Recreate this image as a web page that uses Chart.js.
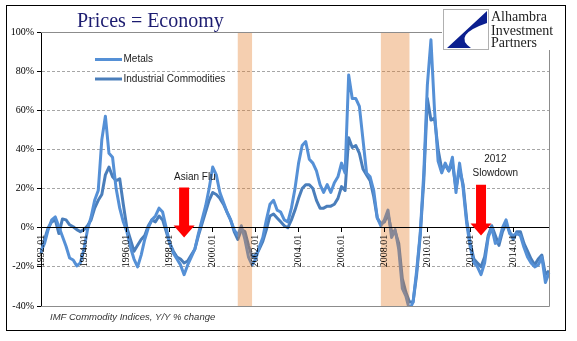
<!DOCTYPE html>
<html>
<head>
<meta charset="utf-8">
<script src="https://cdn.jsdelivr.net/npm/chart.js@4.4.1/dist/chart.umd.min.js"></script>
<style>
  html, body { margin: 0; padding: 0; background: #fff; }
</style>
</head>
<body>
<canvas id="chart" width="577" height="341"></canvas>
<script>
// categories: every other month from 1992.01
const categories = [];
for (let m = 0; m <= 284; m += 2) {
  const yr = 1992 + Math.floor(m / 12);
  categories.push(yr + '.' + String(m % 12 + 1).padStart(2, '0'));
}

const xTickLabels = ['1992.01', '1994.01', '1996.01', '1998.01', '2000.01', '2002.01',
  '2004.01', '2006.01', '2008.01', '2010.01', '2012.01', '2014.01'];

// Y/Y % change
const metals = [
  -12, -8, -1, 4, 5.5, 0.5, -4.5, -9.5, -15.5, -16.5, -19.5, -18, -11, -1, 5.5, 14, 19, 45, 57, 38, 36, 20, 10, 3, -2,
  -10, -16, -20, -14, -6, 0, 4, 6, 10, 8, 0, -8, -13, -16, -19, -24, -19, -15, -11, -3, 4, 11, 20, 31,
  27, 18, 13, 8, 4, -1, -4, 1, -6, -15, -19, -16, -10, -5, 4, 12, 14, 9, 8, 4, 3, 10, 20, 33,
  42, 44, 35, 33, 29, 22, 18, 22, 18, 23, 26, 33, 28, 78, 66, 66, 62, 45, 28, 26, 19, 5, 1, 4,
  9, -5, -1, -11, -31, -35, -42, -38, -22, -3, 28, 73, 96, 60, 34, 28, 33, 29, 36, 18, 33, 20, 2, -10,
  -18, -20, -24, -18, -5, 0, -8, -7, 0, 4, -3, -4, -3, -4, -10, -15, -18, -20, -19, -15, -28, -23
];
const industrial = [
  -13, -6, 0, 3, 4, -3, 4.5, 4, 1.5, 0.5, -1, -2, -1, 1, 4, 10, 14, 17, 27, 31, 26, 24, 25, 12, 0,
  -6, -12, -9, -6, -4, 1, 4, 3, 6, 4, -2, -8, -12, -15, -16, -18, -17, -14, -11, -4, 2, 8, 14, 18,
  17, 15, 12, 8, 4, -2, -6, -1, -2, -9, -15, -14, -11, -7, -1, 6, 7, 5, 3, 1, 0, 4, 9, 15,
  20, 22, 22, 20, 14, 10, 10, 11, 11, 12, 15, 21, 19, 46, 41, 42, 38, 30, 27, 24, 16, 5, 2, 3,
  7, -2, -2, -8, -26, -33, -38, -38, -24, -4, 24, 66, 55, 56, 40, 30, 32, 29, 33, 20, 30, 22, 4, -8,
  -16, -18, -20, -15, -4, 1, -4, -9, -2, 2, -2, -6, -2, -2, -8, -12, -16, -19, -16, -14, -24, -22
];

const recessions = [['2001.03', '2001.11'], ['2007.11', '2009.03']];

const callouts = [
  { at: '1998.09', top: 20.5, tip: -5, textAt: '1999.03', text: [['Asian Flu', 26]] },
  { at: '2012.07', top: 22, tip: -4, textAt: '2013.03', text: [['2012', 34.8], ['Slowdown', 27.6]] }
];

const seriesColors = { metals: '#5590D6', industrial: '#4A7EBB' };

const decor = {
  id: 'decor',
  beforeDraw(chart) {
    const ctx = chart.ctx;
    ctx.save();
    ctx.fillStyle = '#fff';
    ctx.fillRect(0, 0, chart.width, chart.height);
    ctx.restore();
  },
  afterDatasetsDraw(chart) {
    const { ctx, chartArea: a, scales: { x } } = chart;
    ctx.save();
    ctx.fillStyle = 'rgba(226,121,35,0.36)';
    recessions.forEach(([s, e]) => {
      const x1 = x.getPixelForValue(categories.indexOf(s));
      const x2 = x.getPixelForValue(categories.indexOf(e));
      ctx.fillRect(x1, a.top, x2 - x1, a.bottom - a.top);
    });
    ctx.restore();
  },
  afterDraw(chart) {
    const { ctx, chartArea: a, scales: { x, y } } = chart;
    ctx.save();

    // red arrows + notes
    callouts.forEach(c => {
      const cx = x.getPixelForValue(categories.indexOf(c.at));
      const top = y.getPixelForValue(c.top);
      const tip = y.getPixelForValue(c.tip);
      const head = tip - 12;
      ctx.fillStyle = '#FF0000';
      ctx.beginPath();
      ctx.moveTo(cx - 5, top);
      ctx.lineTo(cx + 5, top);
      ctx.lineTo(cx + 5, head);
      ctx.lineTo(cx + 10.5, head);
      ctx.lineTo(cx, tip);
      ctx.lineTo(cx - 10.5, head);
      ctx.lineTo(cx - 5, head);
      ctx.closePath();
      ctx.fill();
      const tx = x.getPixelForValue(categories.indexOf(c.textAt));
      ctx.fillStyle = '#1a1a1a';
      ctx.font = '10px "Liberation Sans"';
      ctx.textAlign = 'center';
      ctx.textBaseline = 'middle';
      c.text.forEach(([t, v]) => ctx.fillText(t, tx, y.getPixelForValue(v)));
    });

    // legend
    ctx.textAlign = 'left';
    ctx.textBaseline = 'middle';
    ctx.font = '10px "Liberation Sans"';
    [['Metals', seriesColors.metals, 59.5], ['Industrial Commodities', seriesColors.industrial, 79]].forEach(([t, col, ly]) => {
      ctx.strokeStyle = col;
      ctx.lineWidth = 3;
      ctx.beginPath();
      ctx.moveTo(95, ly);
      ctx.lineTo(122, ly);
      ctx.stroke();
      ctx.fillStyle = '#1a1a1a';
      ctx.fillText(t, 123.5, ly);
    });

    // plot frame (top, right, bottom)
    ctx.strokeStyle = '#8C8C8C';
    ctx.lineWidth = 1;
    ctx.beginPath();
    ctx.moveTo(a.left, a.top + 0.5);
    ctx.lineTo(a.right + 0.5, a.top + 0.5);
    ctx.lineTo(a.right + 0.5, a.bottom + 0.5);
    ctx.lineTo(a.left, a.bottom + 0.5);
    ctx.stroke();

    // logo
    ctx.fillStyle = '#fff';
    ctx.fillRect(442, 7, 122, 43);
    ctx.strokeStyle = '#B0B0B0';
    ctx.strokeRect(443.5, 9.5, 45, 40);
    ctx.fillStyle = '#0B1F8F';
    ctx.beginPath();
    ctx.moveTo(487, 11);
    ctx.lineTo(447, 48);
    ctx.lineTo(471, 48);
    ctx.quadraticCurveTo(452, 35, 487, 23);
    ctx.closePath();
    ctx.fill();
    ctx.fillStyle = '#222';
    ctx.font = '14px "Liberation Serif"';
    ctx.textBaseline = 'alphabetic';
    ctx.fillText('Alhambra', 491, 21);
    ctx.fillText('Investment', 491, 34.5);
    ctx.fillText('Partners', 491, 47);

    // title
    ctx.fillStyle = '#1C1C70';
    ctx.font = '20px "Liberation Serif"';
    ctx.fillText('Prices = Economy', 77, 27);

    // source note
    ctx.fillStyle = '#333';
    ctx.font = 'italic 9.5px "Liberation Sans"';
    ctx.fillText('IMF Commodity Indices, Y/Y % change', 50, 320);

    // outer frame
    ctx.strokeStyle = '#000';
    ctx.strokeRect(6.5, 5.5, 559, 325);
    ctx.restore();
  }
};

const ctx = document.getElementById('chart').getContext('2d');
new Chart(ctx, {
  type: 'line',
  data: {
    labels: categories,
    datasets: [
      { label: 'Metals', data: metals, borderColor: seriesColors.metals, borderWidth: 3, pointRadius: 0, borderJoinStyle: 'round', fill: false },
      { label: 'Industrial Commodities', data: industrial, borderColor: seriesColors.industrial, borderWidth: 3, pointRadius: 0, borderJoinStyle: 'round', fill: false }
    ]
  },
  options: {
    responsive: false,
    animation: false,
    layout: { padding: { left: 0, right: 28, top: 32, bottom: 35 } },
    plugins: {
      legend: { display: false },
      title: { display: false },
      tooltip: { enabled: false }
    },
    scales: {
      x: {
        position: { y: 0 },
        offset: false,
        grid: { drawOnChartArea: false, tickLength: 4, tickColor: '#000', z: 1 },
        border: { color: '#000', width: 1, z: 1 },
        ticks: {
          autoSkip: false,
          minRotation: 90,
          maxRotation: 90,
          padding: 3,
          color: '#000',
          z: 1,
          font: { family: 'Liberation Serif', size: 10 },
          callback: function (v) {
            const lbl = this.getLabelForValue(v);
            return xTickLabels.includes(lbl) ? lbl : null;
          }
        }
      },
      y: {
        min: -40,
        max: 100,
        afterFit: s => { s.width = 41; },
        grid: { color: '#A6A6A6', tickLength: 4, tickColor: '#000' },
        border: { color: '#000', dash: [3, 2] },
        ticks: {
          stepSize: 20,
          padding: 3,
          color: '#000',
          font: { family: 'Liberation Serif', size: 10 },
          callback: v => v + '%'
        }
      }
    }
  },
  plugins: [decor]
});
</script>
</body>
</html>
